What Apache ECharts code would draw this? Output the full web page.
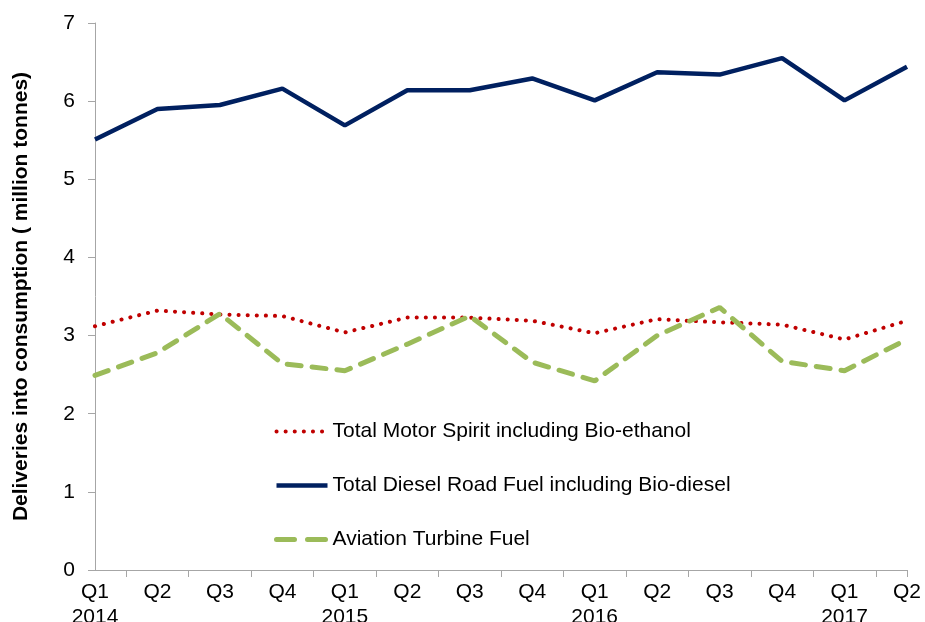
<!DOCTYPE html>
<html>
<head>
<meta charset="utf-8">
<script src="https://cdn.jsdelivr.net/npm/echarts@6/dist/echarts.min.js"></script>
<style>
  html, body { margin: 0; padding: 0; background: #fff; }
  #chart { width: 925px; height: 622px; }
</style>
</head>
<body>
<div id="chart"></div>
<script>
// quarters, Q1 2014 .. Q2 2017
const categories = [
    'Q1\n2014', 'Q2', 'Q3', 'Q4',
    'Q1\n2015', 'Q2', 'Q3', 'Q4',
    'Q1\n2016', 'Q2', 'Q3', 'Q4',
    'Q1\n2017', 'Q2',
];
const motorSpirit = [3.12, 3.32, 3.27, 3.25, 3.04, 3.23, 3.23, 3.19, 3.03, 3.21, 3.17, 3.14, 2.95, 3.19];
const dieselRoad = [5.51, 5.90, 5.95, 6.16, 5.69, 6.14, 6.14, 6.29, 6.01, 6.37, 6.34, 6.55, 6.01, 6.44];
const aviation = [2.49, 2.78, 3.28, 2.64, 2.55, 2.89, 3.25, 2.66, 2.42, 3.00, 3.36, 2.67, 2.55, 2.95];
const yTicks = [0, 1, 2, 3, 4, 5, 6, 7];

// half-step slots so the x ticks can sit between the quarters
const tickSlots = [];
for (let i = 0; i < categories.length * 2 - 1; ++i) {
    tickSlots.push(String(i));
}

const font = '"Liberation Sans", Arial, sans-serif';
const chart = echarts.init(document.getElementById('chart'));

const motorStyle = { color: '#c00000', width: 4, type: [0.1, 9], cap: 'round' };
const dieselStyle = { color: '#002060', width: 4.5, type: 'solid' };
const aviationStyle = { color: '#9bbb59', width: 5, type: [14, 11], cap: 'round' };

chart.setOption({
    animation: false,
    textStyle: { fontFamily: font },
    grid: {
        top: 23,
        left: 95,
        right: 18,
        bottom: 52,
        outerBoundsMode: 'none',
    },
    legend: {
        orient: 'vertical',
        left: 274,
        top: 421,
        padding: 0,
        itemWidth: 51,
        itemHeight: 22,
        itemGap: 33,
        itemStyle: { opacity: 0 },
        textStyle: {
            fontFamily: font,
            fontSize: 21,
            color: '#000',
            padding: [0, 0, 0, 0],
        },
        data: [
            { name: 'Total Motor Spirit including Bio-ethanol', lineStyle: motorStyle },
            { name: 'Total Diesel Road Fuel including Bio-diesel', lineStyle: dieselStyle },
            { name: 'Aviation Turbine Fuel', lineStyle: { ...aviationStyle, type: [18, 13] } },
        ],
    },
    xAxis: [
        {
            type: 'category',
            data: categories,
            boundaryGap: false,
            axisLine: { lineStyle: { color: '#a6a6a6', width: 1 } },
            axisTick: { show: false },
            axisLabel: {
                color: '#000',
                fontSize: 21,
                lineHeight: 25,
                margin: 10,
                interval: 0,
                fontFamily: font,
            },
        },
        {
            type: 'category',
            data: tickSlots,
            boundaryGap: false,
            position: 'bottom',
            axisLine: { show: false },
            axisLabel: { show: false },
            axisTick: {
                show: true,
                inside: false,
                length: 7,
                interval: (i) => i % 2 === 1 || i === tickSlots.length - 1,
                lineStyle: { color: '#a6a6a6', width: 1 },
            },
        },
    ],
    yAxis: {
        type: 'value',
        min: 0,
        max: 7,
        interval: 1,
        name: 'Deliveries into consumption ( million tonnes)',
        nameLocation: 'middle',
        nameGap: 63,
        nameRotate: 90,
        nameTextStyle: {
            fontFamily: font,
            fontSize: 21,
            fontWeight: 'bold',
            color: '#000',
        },
        splitLine: { show: false },
        axisLine: { show: true, lineStyle: { color: '#a6a6a6', width: 1 } },
        axisTick: { show: true, length: 7, lineStyle: { color: '#a6a6a6' } },
        axisLabel: {
            color: '#000',
            fontSize: 21,
            margin: 20,
            fontFamily: font,
            formatter: (v) => (yTicks.includes(v) ? String(v) : ''),
        },
    },
    series: [
        {
            name: 'Total Motor Spirit including Bio-ethanol',
            type: 'line',
            data: motorSpirit,
            symbol: 'none',
            color: '#c00000',
            lineStyle: motorStyle,
        },
        {
            name: 'Total Diesel Road Fuel including Bio-diesel',
            type: 'line',
            data: dieselRoad,
            symbol: 'none',
            color: '#002060',
            lineStyle: dieselStyle,
        },
        {
            name: 'Aviation Turbine Fuel',
            type: 'line',
            data: aviation,
            symbol: 'none',
            color: '#9bbb59',
            lineStyle: aviationStyle,
        },
    ],
});
</script>
</body>
</html>
